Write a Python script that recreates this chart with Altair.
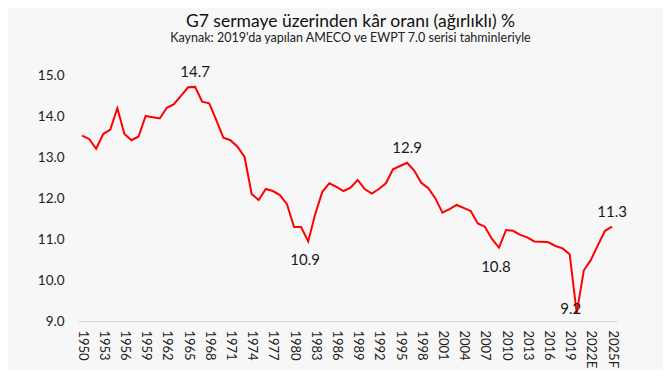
import altair as alt
import pandas as pd

years = list(range(1950, 2026))
values = [
    13.52, 13.44, 13.20, 13.56, 13.67, 14.19, 13.56, 13.41, 13.50, 14.00,
    13.97, 13.94, 14.20, 14.29, 14.49, 14.70, 14.71, 14.35, 14.31, 13.90,
    13.47, 13.41, 13.25, 13.00, 12.10, 11.95, 12.22, 12.17, 12.07, 11.85,
    11.29, 11.29, 10.94, 11.61, 12.15, 12.36, 12.27, 12.17, 12.25, 12.44,
    12.22, 12.11, 12.22, 12.36, 12.70, 12.78, 12.86, 12.67, 12.37, 12.24,
    11.99, 11.64, 11.73, 11.83, 11.76, 11.68, 11.38, 11.30, 11.00, 10.79,
    11.22, 11.20, 11.10, 11.04, 10.94, 10.93, 10.92, 10.83, 10.77, 10.63,
    9.20, 10.23, 10.49, 10.85, 11.20, 11.30,
]

tick_years = list(range(1950, 2026, 3))
tick_labels = [str(y) for y in tick_years]
tick_labels[-2] = "2022E"
tick_labels[-1] = "2025F"

above_years = [1966, 1996, 2025]
above_text = ["14.7", "12.9", "11.3"]
below_years = [1982, 2009]
below_text = ["10.9", "10.8"]
low_years = [2020]
low_text = ["9.2"]

val = dict(zip(years, values))
df = pd.DataFrame({"year": years, "value": values})
df_above = pd.DataFrame({"year": above_years, "value": [val[y] for y in above_years], "t": above_text})
df_below = pd.DataFrame({"year": below_years, "value": [val[y] for y in below_years], "t": below_text})
df_low = pd.DataFrame({"year": low_years, "value": [val[y] for y in low_years], "t": low_text})

label_expr = " : ".join(
    f"datum.value == {y} ? '{l}'" for y, l in zip(tick_years, tick_labels)
) + " : ''"

FONT = "Lato"

x = alt.X(
    "year:Q",
    scale=alt.Scale(domain=[1949.43, 2025.7], nice=False, zero=False),
    axis=alt.Axis(
        values=tick_years,
        labelExpr=label_expr,
        labelAngle=90,
        labelFontSize=13,
        labelColor="#222222",
        labelPadding=9,
        ticks=False,
        grid=False,
        domainColor="#d9d9d9",
        labelFlush=False,
        labelOverlap=False,
        title=None,
    ),
)
y = alt.Y(
    "value:Q",
    scale=alt.Scale(domain=[9, 15], nice=False, zero=False),
    axis=alt.Axis(
        values=[9, 10, 11, 12, 13, 14, 15],
        format=".1f",
        labelFontSize=13.5,
        labelColor="#222222",
        labelPadding=14,
        ticks=False,
        grid=False,
        domain=False,
        title=None,
    ),
)

line = alt.Chart(df).mark_line(color="#ff0000", strokeWidth=2).encode(x=x, y=y)

txt_style = dict(font=FONT, fontSize=15, color="#1a1a1a")
above = alt.Chart(df_above).mark_text(dy=-15, baseline="middle", **txt_style).encode(x=x, y=y, text="t:N")
below = alt.Chart(df_below).mark_text(dy=19, dx=-3, baseline="middle", **txt_style).encode(x=x, y=y, text="t:N")
low = alt.Chart(df_low).mark_text(dx=-6, dy=-4, baseline="middle", **txt_style).encode(x=x, y=y, text="t:N")

chart = (
    alt.layer(line, above, below, low)
    .properties(
        width=539,
        height=246,
        padding={"left": 70, "top": 67, "right": 46, "bottom": 49},
        autosize=alt.AutoSizeParams(type="none"),
        title=alt.Title(
            text="G7 sermaye üzerinden kâr oranı (ağırlıklı) %",
            subtitle="Kaynak: 2019'da yapılan AMECO ve EWPT 7.0 serisi tahminleriyle",
            anchor="middle",
            font=FONT,
            fontSize=17.5,
            fontWeight="normal",
            color="#111111",
            subtitleFont=FONT,
            subtitleFontSize=12.5,
            subtitleColor="#222222",
            subtitlePadding=2,
            offset=20,
            dx=3,
        ),
    )
    .configure(background="#f7f7f7", font=FONT)
    .configure_view(stroke=None)
)

chart.save("out.html", embed_options={"renderer": "svg", "actions": False})
